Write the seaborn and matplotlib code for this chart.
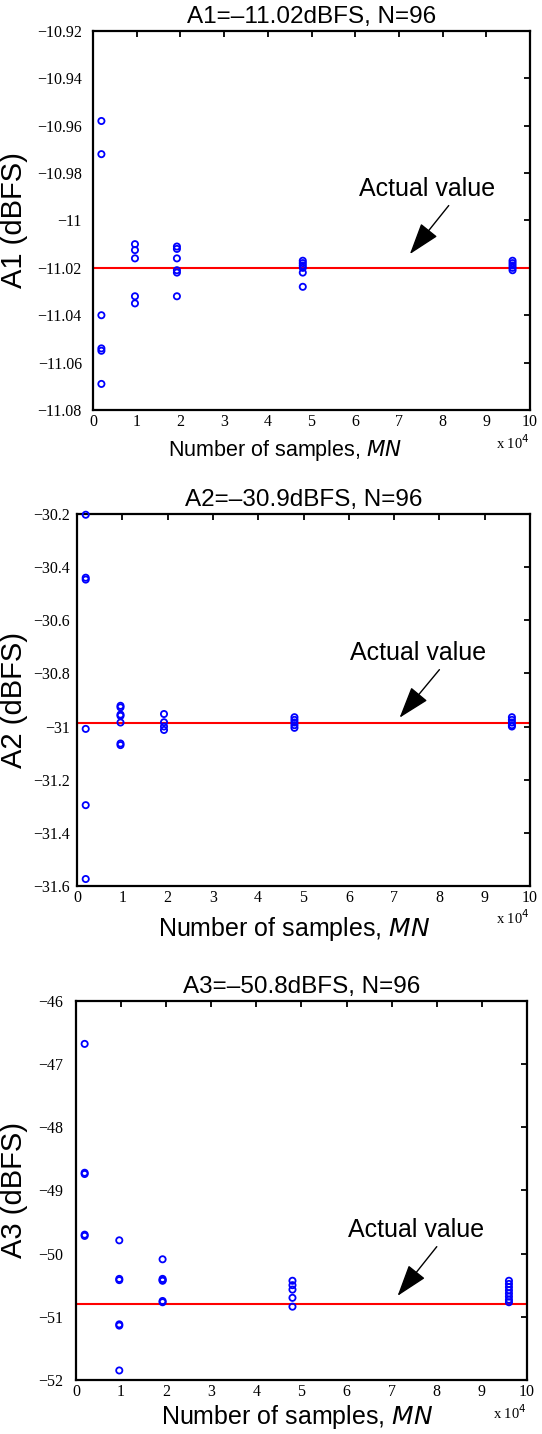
import pandas as pd
import matplotlib
matplotlib.use("Agg")
import matplotlib.pyplot as plt
from matplotlib.ticker import FuncFormatter, MultipleLocator
import seaborn as sns

# number of samples M*N used for each batch of estimates
MN = [1920, 9600, 19200, 48000, 96000]

# estimated amplitudes (dBFS) for each MN
A1_EST = [
    [-10.958, -10.972, -11.040, -11.054, -11.055, -11.069],
    [-11.010, -11.0125, -11.016, -11.032, -11.035],
    [-11.011, -11.012, -11.016, -11.021, -11.022, -11.032],
    [-11.017, -11.018, -11.019, -11.020, -11.022, -11.028],
    [-11.017, -11.018, -11.019, -11.020, -11.021],
]
A2_EST = [
    [-30.203, -30.440, -30.447, -31.009, -31.296, -31.574],
    [-30.922, -30.928, -30.955, -30.960, -30.985, -31.064, -31.070],
    [-30.953, -30.984, -31.000, -31.013],
    [-30.965, -30.975, -30.985, -30.995, -31.005],
    [-30.965, -30.975, -30.985, -30.995, -31.000],
]
A3_EST = [
    [-46.68, -48.72, -48.74, -49.70, -49.72],
    [-49.79, -50.40, -50.42, -51.12, -51.14, -51.85],
    [-50.09, -50.40, -50.42, -50.43, -50.75, -50.77],
    [-50.43, -50.50, -50.57, -50.70, -50.84],
    [-50.43, -50.48, -50.53, -50.58, -50.63, -50.68, -50.73, -50.77],
]
TRUE_VALS = [-11.02, -30.985, -50.8]
TITLES = ["A1=\u201311.02dBFS, N=96", "A2=\u201330.9dBFS, N=96", "A3=\u201350.8dBFS, N=96"]
YLABELS = ["A1 (dBFS)", "A2 (dBFS)", "A3 (dBFS)"]
YLIMS = [(-11.08, -10.92), (-31.6, -30.2), (-52, -46)]
YSTEPS = [0.02, 0.2, 1]

sns.set_theme(style="white")
plt.rcParams["font.family"] = ["Liberation Sans", "DejaVu Sans"]

SERIF = "Liberation Serif"


def to_frame(est):
    rows = []
    for mn, vals in zip(MN, est):
        for v in vals:
            rows.append({"MN": mn / 1e4, "A": v})
    return pd.DataFrame(rows)


def fmt(v, pos):
    s = "%g" % round(v, 6)
    return s.replace("-", "\u2212")


# axes boxes [left, bottom, width, height] in figure fraction
boxes = [
    [0.1716, 0.7141, 0.8063, 0.2643],
    [0.1421, 0.3822, 0.8358, 0.2594],
    [0.1402, 0.0377, 0.8321, 0.2643],
]
ylab_x = [-0.149, -0.108, -0.106]
xlab_pos = [(0.44, -0.075), (0.48, -0.078), (0.49, -0.062)]
xlab_size = [15.5, 18, 18]
ypads = [8, 5, 9]
# label position, arrow tail and arrow tip (data coords)
notes = [
    ((7.64, -10.9867), (8.14, -10.9937), (7.25, -11.0142)),
    ((7.53, -30.722), (8.0, -30.786), (7.12, -30.967)),
    ((7.54, -49.63), (8.0, -49.89), (7.13, -50.67)),
]

fig = plt.figure(figsize=(5.42, 14.34), dpi=100)

for i, est in enumerate([A1_EST, A2_EST, A3_EST]):
    ax = fig.add_axes(boxes[i])
    df = to_frame(est)
    ax.axhline(TRUE_VALS[i], color="#ff0000", lw=1.5, zorder=1)
    sns.scatterplot(data=df, x="MN", y="A", ax=ax, marker="o", s=20,
                    facecolor="none", edgecolor="#0000ff", linewidth=1.3,
                    clip_on=False, zorder=3)
    ax.set_xlim(0, 10)
    ax.set_ylim(*YLIMS[i])
    ax.xaxis.set_major_locator(MultipleLocator(1))
    ax.yaxis.set_major_locator(MultipleLocator(YSTEPS[i]))
    ax.xaxis.set_major_formatter(FuncFormatter(fmt))
    ax.yaxis.set_major_formatter(FuncFormatter(fmt))
    ax.tick_params(direction="in", length=4, width=1.3, top=True, right=True,
                   labelsize=11.5, color="black", labelcolor="black")
    ax.tick_params(axis="y", pad=ypads[i])
    ax.tick_params(axis="x", pad=3)
    for lab in ax.get_xticklabels() + ax.get_yticklabels():
        lab.set_fontfamily(SERIF)
    for sp in ax.spines.values():
        sp.set_color("black")
        sp.set_linewidth(1.6)
    ax.set_title(TITLES[i], fontsize=17.5, pad=6, color="black")
    ax.set_xlabel("Number of samples, $\\it{MN}$", fontsize=xlab_size[i], color="black")
    ax.set_ylabel(YLABELS[i], fontsize=21, color="black")
    ax.xaxis.set_label_coords(*xlab_pos[i])
    ax.yaxis.set_label_coords(ylab_x[i], 0.5)
    ax.text(1.0, -0.085, "x 10$^{4}$", transform=ax.transAxes, ha="right",
            va="center", fontsize=10.5, family=SERIF, color="black")

    txt, tail, tip = notes[i]
    ax.text(txt[0], txt[1], "Actual value", ha="center", va="center",
            fontsize=18, color="black")
    ax.annotate("", xy=tip, xytext=tail,
                arrowprops=dict(arrowstyle="-|>,head_length=1.0,head_width=0.33",
                                color="black", lw=1.0, mutation_scale=20,
                                shrinkA=0, shrinkB=0))

fig.savefig("out.png", dpi=100)
